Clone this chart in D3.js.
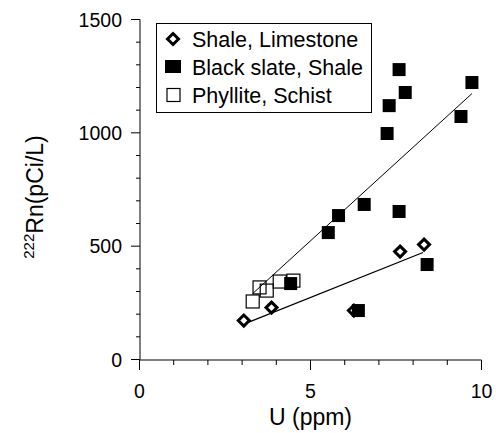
<!DOCTYPE html>
<html><head><meta charset="utf-8">
<script src="https://cdn.jsdelivr.net/npm/d3@7"></script>
<style>body{margin:0;background:#fff}svg{display:block;font-family:"Liberation Sans",Arial,sans-serif}</style>
</head><body><svg id="c" width="496" height="433"></svg>
<script>
// Shale, Limestone (diamonds)
const shaleU  = [3.05, 3.86, 6.27, 7.62, 8.32];
const shaleRn = [172, 229, 216, 476, 507];
// Black slate, Shale (filled squares)
const slateU  = [4.42, 5.52, 5.82, 6.57, 6.40, 7.24, 7.30, 7.59, 7.77, 7.59, 8.41, 9.40, 9.72];
const slateRn = [335, 560, 635, 684, 216, 997, 1120, 1279, 1178, 653, 419, 1072, 1222];
// Phyllite, Schist (open squares)
const phylU  = [3.31, 3.51, 3.72, 4.10, 4.50];
const phylRn = [256, 318, 304, 344, 348];
// regression lines (endpoints)
const slateFitU = [3.31, 9.72], slateFitRn = [291, 1173];
const shaleFitU = [3.16, 8.29], shaleFitRn = [163, 472];
const xTicks = [0, 5, 10];
const yTicks = [0, 500, 1000, 1500];
const legendLabels = ["Shale, Limestone", "Black slate, Shale", "Phyllite, Schist"];

const svg = d3.select("#c");
const x = d3.scaleLinear().domain([0, 10]).range([139.5, 481.5]);
const y = d3.scaleLinear().domain([0, 1500]).range([359.5, 19.5]);

// y axis
const gy = svg.append("g");
gy.append("line").attr("x1", 140).attr("x2", 140).attr("y1", y(1500)).attr("y2", y(0)).attr("stroke", "#000");
gy.selectAll(".minor").data(d3.range(0, 1501, 100)).join("line")
  .attr("x1", d => yTicks.includes(d) ? 131 : 136).attr("x2", 140)
  .attr("y1", d => y(d)).attr("y2", d => y(d)).attr("stroke", "#000");
gy.selectAll("text").data(yTicks).join("text")
  .attr("x", 122).attr("y", d => y(d)).attr("dy", "0.36em").attr("text-anchor", "end")
  .attr("font-size", 19.5).text(d => d);

// x axis
const gx = svg.append("g");
gx.append("line").attr("x1", x(0)).attr("x2", x(10)).attr("y1", 360).attr("y2", 360).attr("stroke", "#000");
gx.selectAll(".t").data(d3.range(0, 11, 1)).join("line")
  .attr("x1", d => x(d)).attr("x2", d => x(d)).attr("y1", 360)
  .attr("y2", d => xTicks.includes(d) ? 370 : 365).attr("stroke", "#000");
gx.selectAll("text").data(xTicks).join("text")
  .attr("x", d => x(d)).attr("y", 398).attr("text-anchor", "middle")
  .attr("font-size", 19.5).text(d => d);

// axis titles
svg.append("text").attr("x", x(5)).attr("y", 425).attr("text-anchor", "middle")
  .attr("font-size", 23).text("U (ppm)");
const yl = svg.append("text").attr("transform", "translate(43,197) rotate(-90)")
  .attr("text-anchor", "middle").attr("font-size", 23);
yl.append("tspan").attr("font-size", 15).attr("dy", -9).text("222");
yl.append("tspan").attr("dy", 9).text("Rn(pCi/L)");

// fit lines
const line = d3.line().x(d => x(d[0])).y(d => y(d[1]));
svg.append("path").attr("d", line(slateFitU.map((u, i) => [u, slateFitRn[i]])))
  .attr("fill", "none").attr("stroke", "#000").attr("stroke-width", 1);
svg.append("path").attr("d", line(shaleFitU.map((u, i) => [u, shaleFitRn[i]])))
  .attr("fill", "none").attr("stroke", "#000").attr("stroke-width", 1.3);

// open squares
svg.append("g").selectAll("rect").data(phylU.map((u, i) => [u, phylRn[i]])).join("rect")
  .attr("x", d => x(d[0]) - 6.5).attr("y", d => y(d[1]) - 6.5).attr("width", 13).attr("height", 13)
  .attr("fill", "none").attr("stroke", "#000").attr("stroke-width", 1.2);
// diamonds
const diamond = "M0,-5.5L5.5,0L0,5.5L-5.5,0Z";
svg.append("g").selectAll("path").data(shaleU.map((u, i) => [u, shaleRn[i]])).join("path")
  .attr("transform", d => `translate(${x(d[0])},${y(d[1])})`).attr("d", diamond)
  .attr("fill", "#fff").attr("stroke", "#000").attr("stroke-width", 3);
// filled squares
svg.append("g").selectAll("rect").data(slateU.map((u, i) => [u, slateRn[i]])).join("rect")
  .attr("x", d => x(d[0]) - 6.5).attr("y", d => y(d[1]) - 6.5).attr("width", 13).attr("height", 13)
  .attr("fill", "#000");

// legend
const lg = svg.append("g");
lg.append("rect").attr("x", 156.5).attr("y", 23.5).attr("width", 215).attr("height", 89)
  .attr("fill", "#fff").attr("stroke", "#000");
const rowsY = [39, 67, 95];
lg.append("path").attr("transform", `translate(173,${rowsY[0]})`).attr("d", diamond)
  .attr("fill", "#fff").attr("stroke", "#000").attr("stroke-width", 3);
lg.append("rect").attr("x", 165).attr("y", rowsY[1] - 7).attr("width", 16).attr("height", 13).attr("fill", "#000");
lg.append("rect").attr("x", 167).attr("y", rowsY[2] - 6.5).attr("width", 13).attr("height", 13)
  .attr("fill", "none").attr("stroke", "#000").attr("stroke-width", 1.2);
lg.selectAll("text").data(legendLabels).join("text")
  .attr("x", 192).attr("y", (d, i) => rowsY[i]).attr("dy", "0.36em")
  .attr("font-size", 21.5).text(d => d);
</script></body></html>
